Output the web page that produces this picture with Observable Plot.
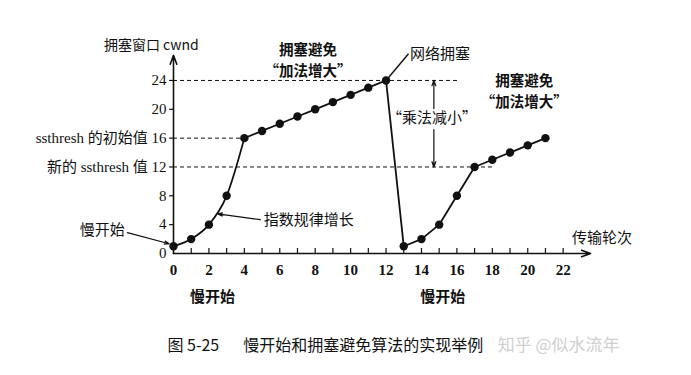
<!DOCTYPE html>
<html><head><meta charset="utf-8">
<script src="https://cdn.jsdelivr.net/npm/d3@7"></script>
<script src="https://cdn.jsdelivr.net/npm/@observablehq/plot@0.6"></script>
<style>body{margin:0;background:#fff;} svg{display:block;}</style>
</head><body><div id="chart"></div>
<script>
// ---- data ----
const rounds = [0,1,2,3,4,5,6,7,8,9,10,11,12,13,14,15,16,17,18,19,20,21];
const cwnd   = [1,2,4,8,16,17,18,19,20,21,22,23,24,1,2,4,8,12,13,14,15,16];
const xTickValues = [0,2,4,6,8,10,12,14,16,18,20,22];
const xMinorTicks = [1,2,3,4,5,6,7,8,9,10,11,12,13,14,15,16,17,18,19,20,21,22];
const yTickValues = [0,4,8,12,16,20,24];
const yTickLabels = ["0","4","8","新的 ssthresh 值 12","ssthresh 的初始值 16","20","24"];
const thresholdLevels = [24,16,12];
const thresholdEnds = [16.2,4,18.1];

const points = rounds.map((r,i)=>({round:r, cwnd:cwnd[i]}));
const slowStart1 = points.filter(d=>d.round<=4);
const rest = points.filter(d=>d.round>=4);

const SERIF = "'Liberation Serif','Noto Sans CJK SC',serif";
const CJK = "'Noto Sans CJK SC','Liberation Serif',sans-serif";

const txt = (data, o) => Plot.text(data, {fontFamily: CJK, fontSize: 14, fill: "#111", ...o});

const chart = Plot.plot({
  width: 691, height: 375,
  marginLeft: 173, marginRight: 100, marginTop: 54, marginBottom: 122,
  x: {domain: [0, 23.6], axis: null},
  y: {domain: [0, 27.6], axis: null},
  style: {background: "#fff"},
  marks: [
    // dashed threshold lines
    Plot.ruleY(thresholdLevels, {y: d=>d, x1: 0, x2: (d,i)=>thresholdEnds[i], stroke: "#111", strokeWidth: 1, strokeDasharray: "4,3"}),
    // axes
    Plot.arrow([0], {x1: 0, y1: 0, x2: 23.55, y2: 0, stroke: "#111", strokeWidth: 1.6, headLength: 9, headAngle: 40}),
    Plot.arrow([0], {x1: 0, y1: 0, x2: 0, y2: 27.5, stroke: "#111", strokeWidth: 1.6, headLength: 9, headAngle: 40}),
    Plot.ruleX(xMinorTicks, {x: d=>d, y1: 0, y2: 0.7, stroke: "#111", strokeWidth: 1.2}),
    Plot.ruleY(yTickValues.slice(1), {y: d=>d, x1: -0.22, x2: 0, stroke: "#111", strokeWidth: 1.2}),
    // tick labels
    Plot.text(yTickValues, {x: 0, y: d=>d, text: (d,i)=>yTickLabels[i], textAnchor: "end", dx: -7, fontFamily: SERIF, fontSize: 15, fill: "#111"}),
    Plot.text(xTickValues, {x: d=>d, y: 0, text: d=>String(d), dy: 17, fontFamily: SERIF, fontSize: 15, fontWeight: "bold", fill: "#111"}),
    // data line
    Plot.line(slowStart1, {x: "round", y: "cwnd", curve: "monotone-x", stroke: "#111", strokeWidth: 1.8}),
    Plot.line(rest, {x: "round", y: "cwnd", stroke: "#111", strokeWidth: 1.8}),
    Plot.dot(points, {x: "round", y: "cwnd", r: 4.2, fill: "#111"}),
    // annotations
    txt(["拥塞窗口 cwnd"], {x: -3.93, y: 28.9, textAnchor: "start", fontSize: 14}),
    txt(["传输轮次"], {x: 22.5, y: 2.1, textAnchor: "start", fontSize: 15}),
    txt(["拥塞避免\n\u201c加法增大\u201d"], {x: 7.6, y: 26.95, fontSize: 14.5, fontWeight: "bold", lineHeight: 1.45, lineAnchor: "middle"}),
    txt(["拥塞避免\n\u201c加法增大\u201d"], {x: 19.8, y: 22.65, fontSize: 14.5, fontWeight: "bold", lineHeight: 1.45, lineAnchor: "middle"}),
    Plot.link([0], {x1: 12, y1: 24, x2: 13.27, y2: 27.7, stroke: "#111", strokeWidth: 1.4}),
    txt(["网络拥塞"], {x: 13.35, y: 27.7, textAnchor: "start", fontSize: 15}),
    Plot.arrow([0], {x1: 14.7, y1: 20.1, x2: 14.7, y2: 24, stroke: "#111", strokeWidth: 1.2, headLength: 7, headAngle: 40}),
    Plot.arrow([0], {x1: 14.7, y1: 17.2, x2: 14.7, y2: 12, stroke: "#111", strokeWidth: 1.2, headLength: 7, headAngle: 40}),
    txt(["\u201c乘法减小\u201d"], {x: 14.6, y: 18.7, fontSize: 15}),
    txt(["指数规律增长"], {x: 5.1, y: 4.6, textAnchor: "start", fontSize: 15}),
    Plot.arrow([0], {x1: 4.9, y1: 4.7, x2: 2.5, y2: 5.5, stroke: "#111", strokeWidth: 1.2, headLength: 6, headAngle: 40}),
    txt(["慢开始"], {x: -2.75, y: 3.2, textAnchor: "end", fontSize: 15}),
    Plot.arrow([0], {x1: -2.6, y1: 2.9, x2: -0.25, y2: 1.35, stroke: "#111", strokeWidth: 1.2, headLength: 6, headAngle: 40}),
    txt(["慢开始"], {x: 2.2, y: -6.1, fontSize: 15, fontWeight: "bold"}),
    txt(["慢开始"], {x: 15.2, y: -6.1, fontSize: 15, fontWeight: "bold"}),
    // caption and watermark
    txt(["图 5-25\u2003\u2002慢开始和拥塞避免算法的实现举例"], {x: -0.34, y: -12.8, textAnchor: "start", fontSize: 16}),
    txt(["知乎 @似水流年"], {x: 18.3, y: -12.8, textAnchor: "start", fontSize: 17, fill: "#cfcfcf"})
  ]
});
document.getElementById("chart").appendChild(chart);
</script>
</body></html>
